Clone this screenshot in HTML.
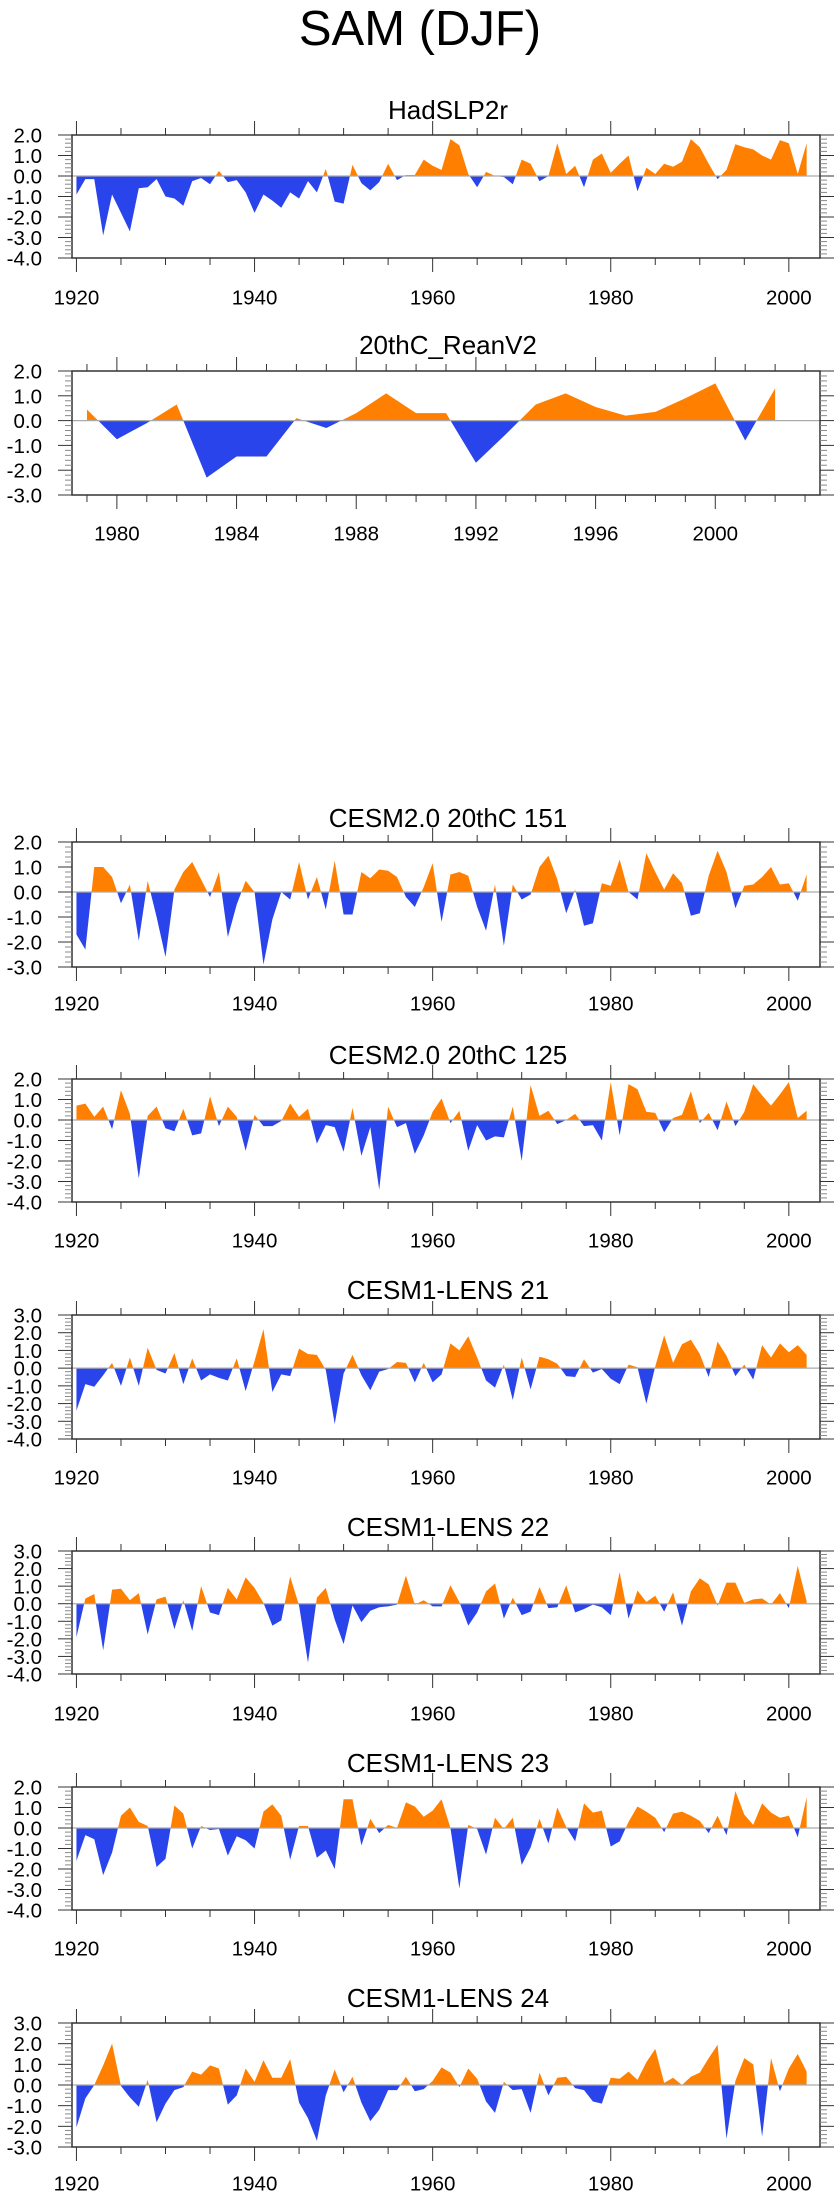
<!DOCTYPE html>
<html><head><meta charset="utf-8"><title>SAM (DJF)</title>
<style>
html,body{margin:0;padding:0;background:#fff;}
svg{display:block;font-family:"Liberation Sans",sans-serif;}
</style></head>
<body>
<svg id="chart" width="840" height="2200" viewBox="0 0 840 2200" xmlns="http://www.w3.org/2000/svg">
<text x="420" y="45" font-size="49" text-anchor="middle" fill="#000">SAM (DJF)</text>
</svg>
<script>
// ---- data ----
const hadslpValues = [-0.9,-0.15,-0.15,-2.9,-0.9,-1.8,-2.7,-0.6,-0.55,-0.15,
 -1.0,-1.1,-1.45,-0.25,-0.1,-0.4,0.25,-0.3,-0.2,-0.8,
 -1.8,-0.9,-1.2,-1.55,-0.8,-1.1,-0.25,-0.8,0.35,-1.25,
 -1.35,0.55,-0.35,-0.7,-0.3,0.6,-0.2,0.05,0.05,0.8,
 0.5,0.3,1.8,1.5,0.1,-0.55,0.2,0.0,-0.05,-0.4,
 0.8,0.6,-0.25,0.0,1.6,0.1,0.5,-0.55,0.8,1.1,
 0.15,0.6,1.0,-0.75,0.4,0.1,0.6,0.45,0.7,1.8,
 1.4,0.6,-0.15,0.3,1.55,1.4,1.3,1.0,0.8,1.75,
 1.6,0.1,1.6];
const reanValues = [0.45,-0.75,-0.1,0.65,-2.3,-1.45,-1.45,0.1,-0.3,0.3,1.1,0.3,0.3,-1.7,-0.55,0.65,1.1,0.55,0.2,0.35,0.9,1.5,-0.8,1.3];
const cesm2m151Values = [-1.7,-2.3,1.0,1.0,0.6,-0.45,0.3,-1.95,0.45,-1.0,
 -2.6,0.1,0.8,1.2,0.5,-0.2,0.8,-1.8,-0.5,0.45,
 0.0,-2.9,-1.1,0.0,-0.3,1.2,-0.3,0.6,-0.7,1.25,
 -0.9,-0.9,0.8,0.55,0.9,0.85,0.6,-0.2,-0.6,0.2,
 1.15,-1.2,0.7,0.8,0.65,-0.6,-1.55,0.3,-2.15,0.3,
 -0.3,-0.1,1.0,1.45,0.5,-0.85,0.1,-1.35,-1.25,0.35,
 0.25,1.3,0.0,-0.3,1.55,0.8,0.1,0.75,0.35,-0.95,
 -0.85,0.65,1.65,0.8,-0.65,0.25,0.3,0.6,1.0,0.3,
 0.35,-0.35,0.7];
const cesm2m125Values = [0.7,0.8,0.15,0.65,-0.45,1.45,0.3,-2.85,0.2,0.65,
 -0.4,-0.55,0.55,-0.75,-0.65,1.15,-0.3,0.65,0.15,-1.5,
 0.25,-0.3,-0.3,-0.05,0.8,0.15,0.55,-1.15,-0.25,-0.35,
 -1.55,0.6,-1.75,-0.35,-3.4,0.65,-0.35,-0.15,-1.65,-0.75,
 0.4,1.05,-0.15,0.45,-1.5,-0.25,-1.0,-0.8,-0.85,0.65,
 -2.0,1.7,0.2,0.45,-0.2,0.0,0.3,-0.3,-0.25,-1.0,
 1.85,-0.75,1.75,1.5,0.4,0.35,-0.6,0.1,0.25,1.4,
 -0.15,0.35,-0.5,0.9,-0.3,0.4,1.75,1.2,0.7,1.25,
 1.85,0.1,0.45];
const lens21Values = [-2.4,-0.9,-1.05,-0.4,0.3,-1.0,0.6,-1.0,1.15,-0.1,
 -0.3,0.85,-0.9,0.55,-0.7,-0.35,-0.55,-0.7,0.55,-1.3,
 0.4,2.2,-1.35,-0.35,-0.45,1.1,0.8,0.75,-0.1,-3.15,
 -0.3,0.75,-0.4,-1.25,-0.2,-0.05,0.35,0.3,-0.8,0.3,
 -0.8,-0.35,1.4,1.0,1.8,0.6,-0.7,-1.1,0.2,-1.8,
 0.6,-1.2,0.65,0.5,0.25,-0.45,-0.5,0.5,-0.25,-0.05,
 -0.6,-0.9,0.2,0.05,-2.0,0.1,1.85,0.3,1.35,1.6,
 0.8,-0.5,1.5,0.7,-0.45,0.2,-0.65,1.3,0.6,1.4,
 0.9,1.3,0.75];
const lens22Values = [-1.9,0.3,0.55,-2.65,0.8,0.85,0.2,0.6,-1.75,0.25,
 0.4,-1.45,0.2,-1.55,1.0,-0.5,-0.65,0.9,0.25,1.5,
 0.9,0.05,-1.25,-0.95,1.55,-0.1,-3.35,0.35,0.9,-0.9,
 -2.3,-0.1,-1.05,-0.4,-0.2,-0.15,-0.05,1.6,-0.05,0.2,
 -0.15,-0.15,1.05,0.1,-1.25,-0.5,0.7,1.15,-0.85,0.35,
 -0.65,-0.45,0.95,-0.25,-0.2,1.05,-0.5,-0.3,-0.05,-0.2,
 -0.65,1.8,-0.85,0.75,0.1,0.45,-0.45,0.65,-1.25,0.7,
 1.45,1.1,-0.1,1.2,1.2,0.05,0.25,0.3,-0.05,0.6,
 -0.25,2.15,0.15];
const lens23Values = [-1.6,-0.35,-0.55,-2.3,-1.2,0.6,1.0,0.3,0.1,-1.9,
 -1.5,1.1,0.7,-1.0,0.1,-0.1,-0.05,-1.35,-0.4,-0.6,
 -1.0,0.8,1.15,0.6,-1.55,0.1,0.1,-1.45,-1.1,-2.0,
 1.4,1.4,-0.85,0.45,-0.25,0.15,0.0,1.25,1.05,0.55,
 0.85,1.4,0.0,-2.95,0.15,-0.05,-1.3,0.5,-0.05,0.5,
 -1.8,-0.95,0.45,-0.75,1.0,0.05,-0.65,1.2,0.75,0.85,
 -0.9,-0.65,0.3,1.05,0.8,0.5,-0.2,0.7,0.8,0.6,
 0.35,-0.25,0.6,-0.35,1.8,0.65,0.15,1.2,0.75,0.5,
 0.6,-0.45,1.5];
const lens24Values = [-2.05,-0.65,0.0,0.95,2.0,-0.05,-0.6,-1.05,0.25,-1.8,
 -0.9,-0.25,-0.1,0.65,0.5,0.95,0.8,-0.95,-0.5,0.8,
 0.15,1.2,0.35,0.35,1.25,-0.85,-1.6,-2.7,-0.5,0.75,
 -0.35,0.4,-0.85,-1.75,-1.2,-0.25,-0.25,0.4,-0.3,-0.2,
 0.2,0.85,0.6,-0.1,0.8,0.3,-0.8,-1.35,0.15,-0.25,
 -0.2,-1.35,0.6,-0.5,0.35,0.4,-0.15,-0.25,-0.8,-0.9,
 0.35,0.3,0.65,0.25,1.1,1.75,0.1,0.35,0.0,0.4,
 0.6,1.3,1.95,-2.6,0.2,1.3,1.0,-2.5,1.3,-0.3,
 0.8,1.5,0.65];
const panelTitles = ["HadSLP2r","20thC_ReanV2","CESM2.0 20thC 151","CESM2.0 20thC 125","CESM1-LENS 21","CESM1-LENS 22","CESM1-LENS 23","CESM1-LENS 24"];
const startYears = [1920,1979,1920,1920,1920,1920,1920,1920];
const yTickLabelsA = ["2.0","1.0","0.0","-1.0","-2.0","-3.0","-4.0"];
const yTickLabelsB = ["2.0","1.0","0.0","-1.0","-2.0","-3.0"];
const yTickLabelsC = ["3.0","2.0","1.0","0.0","-1.0","-2.0","-3.0","-4.0"];
const yTickLabelsD = ["3.0","2.0","1.0","0.0","-1.0","-2.0","-3.0"];
const xTickLabelsLong = ["1920","1940","1960","1980","2000"];
const xTickLabelsShort = ["1980","1984","1988","1992","1996","2000"];

// ---- layout ----
const NS = "http://www.w3.org/2000/svg";
const svg = document.getElementById("chart");
const seriesList = [hadslpValues, reanValues, cesm2m151Values, cesm2m125Values, lens21Values, lens22Values, lens23Values, lens24Values];
const yLabelSets = [yTickLabelsA, yTickLabelsB, yTickLabelsB, yTickLabelsA, yTickLabelsC, yTickLabelsC, yTickLabelsA, yTickLabelsD];
const layout = [
 {top:135,bot:258,title:110,lab:297},
 {top:371,bot:495,title:345,lab:533},
 {top:842,bot:967,title:818,lab:1003},
 {top:1079,bot:1202,title:1055,lab:1240},
 {top:1315,bot:1439,title:1290,lab:1477},
 {top:1551,bot:1674,title:1527,lab:1713},
 {top:1787,bot:1910,title:1763,lab:1948},
 {top:2023,bot:2147,title:1998,lab:2183}
];
const L = 72, R = 820;
function mk(tag, attrs, parent){const e=document.createElementNS(NS,tag);for(const k in attrs)e.setAttribute(k,attrs[k]);(parent||svg).appendChild(e);return e;}

seriesList.forEach((vals, p) => {
  const lay = layout[p];
  const ylabels = yLabelSets[p];
  const ymax = parseFloat(ylabels[0]), ymin = parseFloat(ylabels[ylabels.length-1]);
  const isShort = startYears[p] === 1979;
  const xmin = isShort ? 1978.5 : 1919.5, xmax = 2003.5;
  const xs = yr => L + (yr - xmin) / (xmax - xmin) * (R - L);
  const ys = v => lay.top + (ymax - v) / (ymax - ymin) * (lay.bot - lay.top);
  const g = mk("g", {});
  
  

  const t = mk("text", {x:(L+R)/2 + 2, y:lay.title + 9, "font-size":26, "text-anchor":"middle", fill:"#000"}, g);
  t.textContent = panelTitles[p];
  
  

  const y0 = ys(0);
  let pts = xs(startYears[p]) + "," + y0 + " ";
  vals.forEach((v,i) => { pts += xs(startYears[p]+i) + "," + ys(v) + " "; });
  pts += xs(startYears[p]+vals.length-1) + "," + y0;
  const cidA = "clipA" + p, cidB = "clipB" + p;
  const defs = mk("defs", {}, g);
  const cA = mk("clipPath", {id:cidA}, defs); mk("rect", {x:L, y:lay.top, width:R-L, height:y0-lay.top}, cA);
  const cB = mk("clipPath", {id:cidB}, defs); mk("rect", {x:L, y:y0, width:R-L, height:lay.bot-y0}, cB);
  const pos = mk("polygon", {points:pts, fill:"#ff8000", "clip-path":"url(#"+cidA+")"}, g);
  
  
  const neg = mk("polygon", {points:pts, fill:"#2a44ec", "clip-path":"url(#"+cidB+")"}, g);
  
  
  const zl = mk("line", {x1:L, x2:R, y1:y0, y2:y0, stroke:"#aaa", "stroke-width":1.2}, g);
  
  

  const fr = mk("rect", {x:L, y:lay.top, width:R-L, height:lay.bot-lay.top, fill:"none", stroke:"#333", "stroke-width":1.5}, g);
  
  

  const ystep = 0.2;
  for (let k = 0; k <= Math.round((ymax-ymin)/ystep); k++) {
    const v = ymax - k*ystep, y = ys(v);
    const major = k % 5 === 0;
    const len = major ? 14 : 7;
    mk("line", {x1:L-len, x2:L, y1:y, y2:y, stroke: major?"#333":"#888", "stroke-width":1}, g);
    mk("line", {x1:R, x2:R+len, y1:y, y2:y, stroke: major?"#333":"#888", "stroke-width":1}, g);
  }
  ylabels.forEach(lbl => {
    const tx = mk("text", {x:42, y:ys(parseFloat(lbl)) + 7.5, "font-size":20.5, "text-anchor":"end", fill:"#000"}, g);
    tx.textContent = lbl;
    
    
  });

  const minorStep = isShort ? 1 : 5, majorStep = isShort ? 4 : 20;
  const first = isShort ? 1979 : 1920;
  for (let yr = first; yr <= 2003; yr += minorStep) {
    const x = xs(yr), major = (yr - 1920) % majorStep === 0 && (!isShort || (yr-1980)%4===0);
    const len = major ? 14 : 7;
    mk("line", {x1:x, x2:x, y1:lay.top-len, y2:lay.top, stroke:"#333", "stroke-width":1}, g);
    mk("line", {x1:x, x2:x, y1:lay.bot, y2:lay.bot+len, stroke:"#333", "stroke-width":1}, g);
  }
  (isShort ? xTickLabelsShort : xTickLabelsLong).forEach(lbl => {
    const tx = mk("text", {x:xs(parseFloat(lbl)), y:lay.lab + 7.5, "font-size":20.5, "text-anchor":"middle", fill:"#000"}, g);
    tx.textContent = lbl;
    
    
  });
});
</script>
</body></html>
